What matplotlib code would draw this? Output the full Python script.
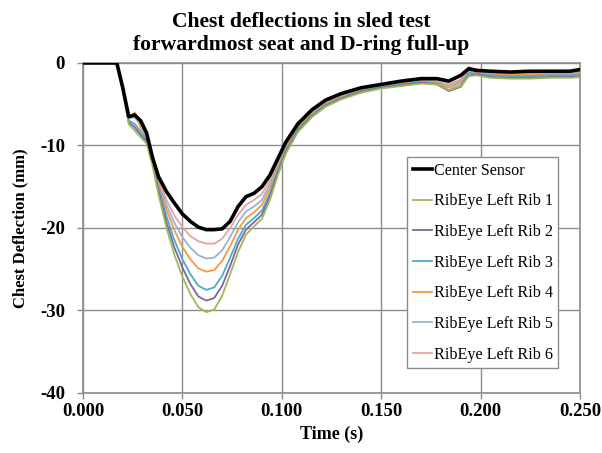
import matplotlib
matplotlib.use('Agg')
import matplotlib.pyplot as plt

# time (s)
t = [0.000, 0.010, 0.017, 0.020, 0.023, 0.026, 0.029, 0.032, 0.035, 0.038,
     0.042, 0.046, 0.050, 0.054, 0.058, 0.062, 0.066, 0.070, 0.074, 0.078,
     0.082, 0.086, 0.090, 0.094, 0.098, 0.102, 0.108, 0.115, 0.122, 0.130,
     0.140, 0.150, 0.160, 0.170, 0.178, 0.184, 0.190, 0.194, 0.198, 0.205,
     0.215, 0.225, 0.235, 0.245, 0.250]

center = [0, 0, 0, -3.0, -6.5, -6.3, -7.0, -8.5, -11.5, -13.8,
          -15.6, -17.0, -18.3, -19.2, -19.9, -20.2, -20.2, -20.1, -19.2, -17.4,
          -16.2, -15.8, -15.0, -13.6, -11.6, -9.6, -7.4, -5.7, -4.5, -3.7,
          -3.0, -2.6, -2.2, -1.9, -1.9, -2.2, -1.5, -0.7, -0.9, -1.0,
          -1.1, -1.0, -1.0, -1.0, -0.8]
rib1 = [0, 0, 0, -3.4, -7.4, -8.2, -9.0, -9.8, -12.5, -16.0,
        -20.0, -23.3, -25.9, -28.0, -29.6, -30.2, -29.9, -28.2, -25.6, -22.9,
        -20.8, -19.8, -18.9, -16.6, -13.6, -11.0, -8.4, -6.6, -5.3, -4.4,
        -3.6, -3.1, -2.8, -2.5, -2.6, -3.3, -2.8, -1.6, -1.5, -1.8,
        -1.9, -1.9, -1.8, -1.8, -1.7]
rib2 = [0, 0, 0, -3.3, -7.2, -7.8, -8.7, -9.5, -12.2, -15.6,
        -19.3, -22.4, -24.8, -26.8, -28.3, -28.8, -28.5, -27.0, -24.6, -22.0,
        -20.2, -19.3, -18.4, -16.2, -13.3, -10.8, -8.2, -6.5, -5.2, -4.3,
        -3.5, -3.0, -2.7, -2.4, -2.6, -3.4, -2.9, -1.5, -1.4, -1.7,
        -1.8, -1.8, -1.7, -1.7, -1.6]
rib3 = [0, 0, 0, -3.2, -7.0, -7.4, -8.3, -9.2, -12.0, -15.2,
        -18.6, -21.5, -23.8, -25.6, -27.0, -27.5, -27.2, -25.8, -23.6, -21.3,
        -19.6, -18.8, -17.9, -15.8, -13.0, -10.6, -8.0, -6.3, -5.1, -4.2,
        -3.4, -2.9, -2.6, -2.3, -2.5, -3.3, -2.7, -1.2, -1.3, -1.5,
        -1.6, -1.6, -1.5, -1.5, -1.4]
rib4 = [0, 0, 0, -3.1, -6.7, -6.0, -7.8, -8.9, -11.8, -14.8,
        -17.8, -20.3, -22.3, -23.8, -24.9, -25.3, -25.1, -24.0, -22.2, -20.2,
        -18.8, -18.1, -17.2, -15.2, -12.6, -10.3, -7.8, -6.1, -4.9, -4.0,
        -3.3, -2.8, -2.5, -2.2, -2.4, -3.0, -2.4, -0.9, -1.1, -1.3,
        -1.4, -1.4, -1.3, -1.3, -1.2]
rib5 = [0, 0, 0, -3.0, -6.7, -6.6, -7.5, -8.7, -11.7, -14.5,
        -17.2, -19.4, -21.1, -22.4, -23.3, -23.7, -23.6, -22.7, -21.1, -19.3,
        -18.0, -17.4, -16.6, -14.7, -12.3, -10.1, -7.7, -6.0, -4.8, -3.9,
        -3.2, -2.8, -2.5, -2.2, -2.3, -2.8, -2.2, -1.0, -1.2, -1.4,
        -1.5, -1.5, -1.4, -1.4, -1.3]
rib6 = [0, 0, 0, -3.0, -6.6, -6.2, -7.2, -8.5, -11.6, -14.2,
        -16.6, -18.5, -19.9, -21.0, -21.6, -21.9, -21.9, -21.3, -20.0, -18.4,
        -17.2, -16.6, -15.9, -14.2, -12.0, -9.9, -7.6, -5.9, -4.7, -3.9,
        -3.2, -2.7, -2.4, -2.1, -2.2, -2.6, -2.0, -0.5, -0.8, -1.2,
        -1.3, -1.3, -1.2, -1.2, -1.1]

series = [center, rib1, rib2, rib3, rib4, rib5, rib6]
names = ['Center Sensor', 'RibEye Left Rib 1', 'RibEye Left Rib 2',
         'RibEye Left Rib 3', 'RibEye Left Rib 4', 'RibEye Left Rib 5',
         'RibEye Left Rib 6']
colores = ['black', '#9BBB59', '#8064A2', '#4BACC6', '#F79646', '#95B3D7',
           '#E6A3A2']
xticks = [0.0, 0.05, 0.10, 0.15, 0.20, 0.25]
yticks = [0, -10, -20, -30, -40]

plt.rcParams['font.family'] = 'Liberation Serif'
gris = '#8c8c8c'

fig = plt.figure(figsize=(6.02, 4.53), dpi=100)
ax = fig.add_axes([0.1379, 0.1325, 0.8256, 0.7285])

# dibujar primero los sensores de costilla, luego el central encima
for k in range(len(series) - 1, -1, -1):
    lw = 2.6 if k == 0 else 1.3
    ax.plot(t, series[k], color=colores[k], lw=lw, label=names[k],
            zorder=3 + (10 if k == 0 else 0))

ax.set_xlim(0, 0.25)
ax.set_ylim(-40, 0)
ax.set_xticks(xticks)
ax.set_xticklabels(['%.3f' % v for v in xticks])
ax.set_yticks(yticks)
ax.set_yticklabels([str(v) for v in yticks])
for lab in ax.get_xticklabels() + ax.get_yticklabels():
    lab.set_fontweight('bold')
    lab.set_fontsize(13.5)
ax.tick_params(colors=gris, labelcolor='black', length=4, width=1)
ax.tick_params(axis='x', pad=3)
ax.tick_params(axis='y', pad=9)
ax.grid(True, color=gris, lw=1)
ax.set_axisbelow(True)
for s in ax.spines.values():
    s.set_color(gris)
    s.set_linewidth(1.2)

ax.set_xlabel('Time (s)', fontsize=13, fontweight='bold', labelpad=4)
ax.set_ylabel('Chest Deflection (mm)', fontsize=12, fontweight='bold',
              labelpad=8)
fig.text(0.5, 1 - 27 / 453, 'Chest deflections in sled test',
         ha='center', va='baseline', fontsize=15.6, fontweight='bold')
fig.text(0.5, 1 - 50 / 453, 'forwardmost seat and D-ring full-up',
         ha='center', va='baseline', fontsize=15.6, fontweight='bold')

h, l = ax.get_legend_handles_labels()
h = h[::-1]
l = l[::-1]
leg = ax.legend(h, l, loc='upper left', bbox_to_anchor=(0.652, 0.715),
                fontsize=11.6, handlelength=1.2, handletextpad=0.1,
                labelspacing=0.91, borderpad=0.35, fancybox=False,
                framealpha=1, edgecolor=gris, borderaxespad=0)
leg.get_frame().set_linewidth(1.0)

fig.savefig('out.png', dpi=100)
